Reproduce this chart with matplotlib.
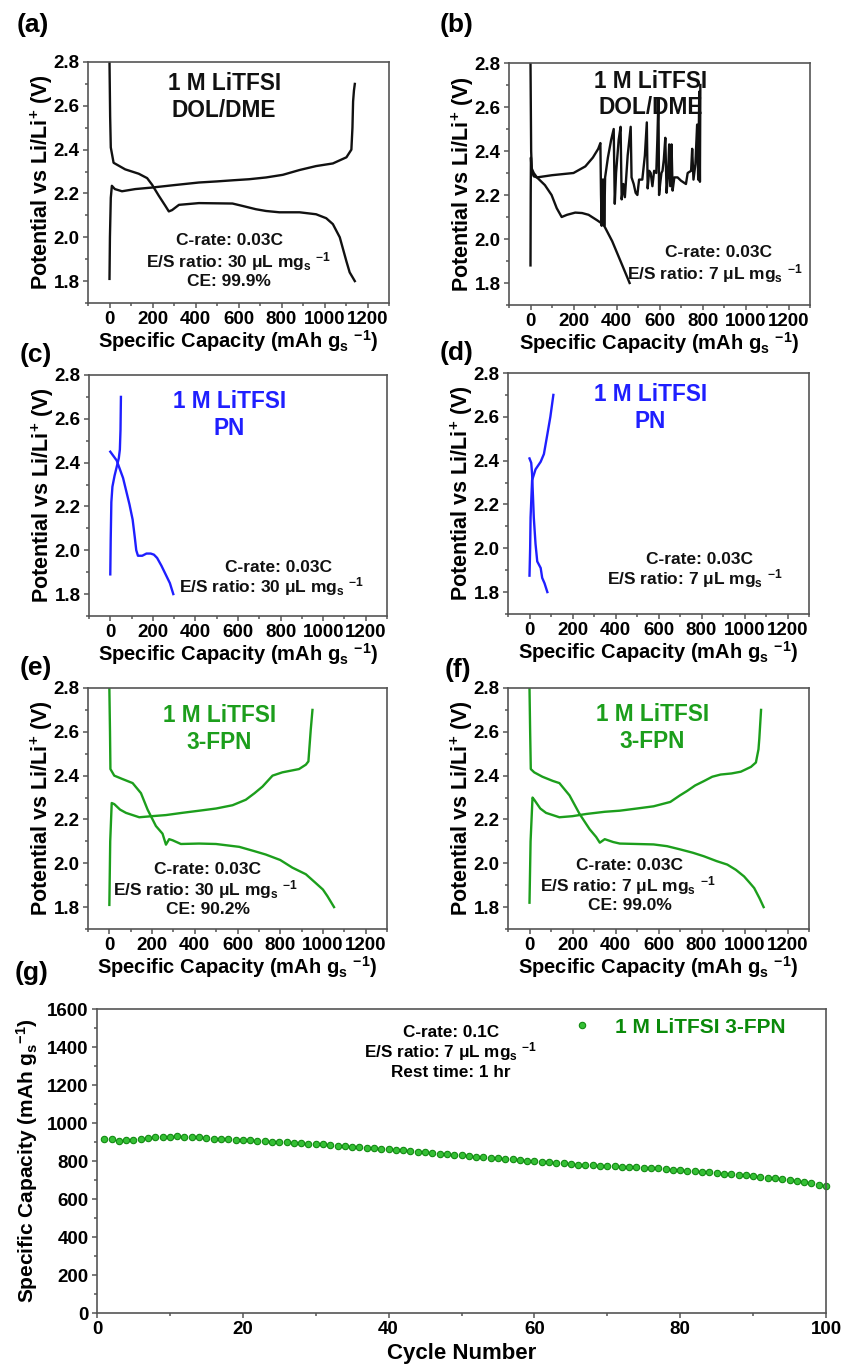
import matplotlib
matplotlib.use("Agg")
import matplotlib.pyplot as plt
from matplotlib.ticker import MultipleLocator

plt.rcParams['font.family'] = ['Liberation Sans', 'DejaVu Sans']
plt.rcParams['font.weight'] = 'bold'
plt.rcParams['axes.labelweight'] = 'bold'
plt.rcParams['mathtext.fontset'] = 'custom'
plt.rcParams['mathtext.rm'] = 'Liberation Sans:bold'
plt.rcParams['mathtext.bf'] = 'Liberation Sans:bold'
plt.rcParams['mathtext.it'] = 'Liberation Sans:bold'
plt.rcParams['mathtext.default'] = 'bf'

# ---------------- data ----------------
# (a) 1 M LiTFSI DOL/DME, 30 uL/mg
a_chg_x = [0, 2, 6, 11, 25, 58, 120, 198, 300, 416, 500, 572, 650, 728, 806, 884, 961, 1039, 1102, 1125, 1130, 1133, 1137, 1141]
a_chg_y = [1.81, 2.00, 2.18, 2.235, 2.22, 2.21, 2.22, 2.227, 2.238, 2.25, 2.255, 2.26, 2.265, 2.273, 2.285, 2.307, 2.325, 2.337, 2.365, 2.40, 2.50, 2.62, 2.67, 2.70]
a_dis_x = [0, 3, 6, 19, 73, 136, 175, 198, 229, 260, 276, 291, 323, 416, 572, 619, 681, 728, 790, 884, 961, 1008, 1039, 1071, 1102, 1117, 1141]
a_dis_y = [2.80, 2.55, 2.41, 2.34, 2.31, 2.29, 2.27, 2.24, 2.19, 2.143, 2.118, 2.124, 2.148, 2.156, 2.154, 2.143, 2.128, 2.12, 2.114, 2.114, 2.105, 2.087, 2.06, 2.00, 1.89, 1.84, 1.80]

# (b) 1 M LiTFSI DOL/DME, 7 uL/mg
b_chg_x = [0, 1, 2, 5, 15, 30, 100, 200, 255, 290, 315, 325, 328, 331, 334, 337, 340, 343, 347, 360, 375, 387, 392, 398, 410, 419,
           424, 432, 439, 452, 466, 470, 480, 489, 497, 505, 520, 532, 541, 545, 552, 559, 567, 575, 585, 590, 595, 598, 603,
           609, 614, 620, 627, 633, 640, 645, 650, 656, 661, 669, 684, 700, 723, 731, 747, 752, 758, 767, 775, 780, 785, 788, 790]
b_chg_y = [1.88, 2.20, 2.37, 2.31, 2.285, 2.28, 2.29, 2.30, 2.33, 2.37, 2.41, 2.436, 2.20, 2.06, 2.27, 2.10, 2.27, 2.06, 2.28, 2.37, 2.45, 2.50, 2.16, 2.30, 2.45, 2.51,
           2.18, 2.25, 2.19, 2.38, 2.51, 2.28, 2.25, 2.21, 2.20, 2.27, 2.27, 2.38, 2.53, 2.23, 2.31, 2.30, 2.24, 2.31, 2.30, 2.45, 2.64, 2.20, 2.25,
           2.30, 2.31, 2.36, 2.46, 2.21, 2.30, 2.43, 2.24, 2.43, 2.22, 2.28, 2.28, 2.265, 2.25, 2.30, 2.31, 2.41, 2.27, 2.34, 2.52, 2.27, 2.67, 2.26, 2.70]
b_dis_x = [0, 3, 6, 15, 30, 67, 98, 122, 145, 170, 208, 240, 270, 310, 340, 380, 427, 461]
b_dis_y = [2.80, 2.40, 2.32, 2.30, 2.28, 2.245, 2.20, 2.14, 2.10, 2.11, 2.12, 2.118, 2.11, 2.085, 2.065, 1.99, 1.88, 1.80]

# (c) 1 M LiTFSI PN, 30 uL/mg
c_chg_x = [0, 2, 5, 10, 20, 30, 40, 45, 48, 50]
c_chg_y = [1.89, 2.05, 2.22, 2.29, 2.34, 2.38, 2.42, 2.46, 2.55, 2.70]
c_dis_x = [0, 15, 30, 45, 60, 75, 90, 105, 115, 122, 130, 150, 170, 190, 205, 220, 240, 260, 280, 296]
c_dis_y = [2.45, 2.43, 2.41, 2.37, 2.33, 2.27, 2.21, 2.14, 2.06, 2.00, 1.975, 1.975, 1.985, 1.985, 1.98, 1.965, 1.93, 1.89, 1.85, 1.80]

# (d) 1 M LiTFSI PN, 7 uL/mg
d_chg_x = [0, 3, 5, 12, 28, 52, 67, 83, 97, 111]
d_chg_y = [1.875, 2.00, 2.14, 2.31, 2.36, 2.395, 2.43, 2.52, 2.60, 2.70]
d_dis_x = [0, 8, 12, 16, 20, 28, 36, 52, 59, 70, 83]
d_dis_y = [2.41, 2.39, 2.34, 2.24, 2.14, 2.02, 1.94, 1.91, 1.865, 1.84, 1.80]

# (e) 1 M LiTFSI 3-FPN, 30 uL/mg
e_chg_x = [0, 4, 11, 23, 50, 78, 140, 200, 265, 340, 421, 500, 577, 639, 680, 717, 764, 810, 888, 920, 932, 943, 951]
e_chg_y = [1.81, 2.10, 2.275, 2.27, 2.245, 2.23, 2.21, 2.215, 2.22, 2.23, 2.24, 2.25, 2.265, 2.29, 2.32, 2.35, 2.40, 2.415, 2.43, 2.45, 2.465, 2.61, 2.70]
e_dis_x = [0, 3, 5, 23, 60, 109, 148, 179, 218, 249, 265, 280, 296, 335, 420, 499, 608, 680, 732, 800, 857, 920, 966, 1000, 1021, 1052]
e_dis_y = [2.80, 2.60, 2.43, 2.40, 2.385, 2.366, 2.32, 2.245, 2.17, 2.135, 2.085, 2.11, 2.105, 2.088, 2.09, 2.088, 2.075, 2.055, 2.04, 2.015, 1.98, 1.95, 1.91, 1.88, 1.85, 1.80]

# (f) 1 M LiTFSI 3-FPN, 7 uL/mg
f_chg_x = [0, 5, 14, 22, 50, 77, 139, 200, 264, 350, 420, 500, 577, 655, 700, 733, 770, 811, 850, 889, 940, 983, 1030, 1053, 1065, 1069, 1077]
f_chg_y = [1.82, 2.10, 2.30, 2.29, 2.25, 2.23, 2.21, 2.215, 2.225, 2.235, 2.24, 2.25, 2.26, 2.28, 2.31, 2.33, 2.355, 2.375, 2.395, 2.405, 2.41, 2.418, 2.44, 2.46, 2.52, 2.57, 2.70]
f_dis_x = [0, 3, 6, 22, 60, 108, 139, 186, 233, 280, 310, 327, 350, 389, 420, 500, 577, 640, 702, 760, 811, 870, 920, 960, 998, 1025, 1045, 1070, 1089]
f_dis_y = [2.80, 2.60, 2.43, 2.415, 2.395, 2.376, 2.366, 2.31, 2.225, 2.155, 2.12, 2.094, 2.11, 2.097, 2.09, 2.088, 2.086, 2.078, 2.063, 2.048, 2.032, 2.01, 1.994, 1.97, 1.94, 1.91, 1.887, 1.84, 1.80]

# (g) cycling, 1 M LiTFSI 3-FPN
g_cycle = list(range(1, 101))
g_capacity = [918, 916, 905, 908, 912, 916, 920, 924, 927, 928, 929, 928, 926, 924, 921, 918, 916, 914, 912, 910,
              908, 906, 904, 902, 900, 898, 896, 894, 892, 890, 887, 884, 881, 878, 876, 873, 870, 867, 864, 862,
              859, 856, 852, 849, 845, 842, 838, 835, 832, 829, 826, 823, 820, 817, 814, 811, 808, 805, 802, 799,
              796, 793, 790, 787, 784, 781, 779, 777, 775, 774, 773, 771, 769, 767, 765, 763, 761, 758, 755, 752,
              749, 746, 743, 740, 737, 734, 731, 728, 725, 721, 717, 713, 709, 705, 700, 695, 690, 684, 676, 667]

BLACK = '#111111'
BLUE = '#1f1fff'
GREEN = '#1c9e1c'
SPINE = '#555555'

W, H = 841, 1368
fig = plt.figure(figsize=(W / 100, H / 100), dpi=100)


def px_axes(l, t, r, b):
    return fig.add_axes([l / W, 1 - b / H, (r - l) / W, (b - t) / H])


def style(ax, tsize=13.5):
    for s in ax.spines.values():
        s.set_color(SPINE)
        s.set_linewidth(1.2)
    ax.tick_params(which='both', direction='out', top=False, right=False, color=SPINE, width=1.1)
    ax.tick_params(which='major', length=3.5, labelsize=tsize, pad=2.5)
    ax.tick_params(which='minor', length=2.5)
    for lab in ax.get_xticklabels() + ax.get_yticklabels():
        lab.set_fontweight('bold')


XLABEL = r'Specific Capacity (mAh g$_{\mathbf{s}}$ $^{\mathbf{-1}}$)'
YLABEL = r'Potential vs Li/Li$^{\mathbf{+}}$ (V)'


def vpanel(box, tag, tagxy, curves, color, title, title_xy, notes):
    ax = px_axes(*box)
    for xs, ys in curves:
        ax.plot(xs, ys, color=color, lw=1.7, solid_joinstyle='round')
    ax.set_xlim(-100, 1300)
    ax.set_ylim(1.7, 2.8)
    ax.xaxis.set_minor_locator(MultipleLocator(100))
    ax.yaxis.set_minor_locator(MultipleLocator(0.1))
    ax.set_yticks([1.8, 2.0, 2.2, 2.4, 2.6, 2.8])
    ax.set_xticks([0, 200, 400, 600, 800, 1000, 1200])
    style(ax)
    ax.set_xlabel(XLABEL, fontsize=14.5, fontweight='bold', labelpad=0)
    ax.set_ylabel(YLABEL, fontsize=15.5, fontweight='bold', labelpad=-1)
    tx, ty1, ty2 = title_xy
    ax.text(tx, ty1, title[0], ha='center', va='center', fontsize=16.3, fontweight='bold', color=color)
    ax.text(tx, ty2, title[1], ha='center', va='center', fontsize=16.3, fontweight='bold', color=color)
    for (nx, ny, s) in notes:
        ax.text(nx, ny, s, ha='center', va='center', fontsize=12.5, fontweight='bold', color='#111111')
    fig.text(tagxy[0] / W, 1 - tagxy[1] / H, tag, ha='left', va='center', fontsize=19, fontweight='bold')
    return ax


def es(v):
    return r'E/S ratio: ' + v + r' μL mg$_{\mathbf{s}}$ $^{\mathbf{-1}}$'


vpanel((88, 62, 389, 303), '(a)', (17, 25), [(a_chg_x, a_chg_y), (a_dis_x, a_dis_y)], BLACK,
       ('1 M LiTFSI', 'DOL/DME'), (533, 2.70, 2.58),
       [(556, 1.986, 'C-rate: 0.03C'), (600, 1.89, es('30')), (556, 1.80, 'CE: 99.9%')])
vpanel((509, 63, 810, 305), '(b)', (440, 25), [(b_chg_x, b_chg_y), (b_dis_x, b_dis_y)], BLACK,
       ('1 M LiTFSI', 'DOL/DME'), (559, 2.714, 2.597),
       [(875, 1.94, 'C-rate: 0.03C'), (855, 1.845, es('7'))])
vpanel((89, 375, 387, 616), '(c)', (20, 355), [(c_chg_x, c_chg_y), (c_dis_x, c_dis_y)], BLUE,
       ('1 M LiTFSI', 'PN'), (559, 2.68, 2.557),
       [(790, 1.92, 'C-rate: 0.03C'), (760, 1.835, es('30'))])
vpanel((508, 373, 809, 614), '(d)', (440, 353), [(d_chg_x, d_chg_y), (d_dis_x, d_dis_y)], BLUE,
       ('1 M LiTFSI', 'PN'), (562, 2.70, 2.58),
       [(789, 1.947, 'C-rate: 0.03C'), (770, 1.86, es('7'))])
vpanel((88, 688, 387, 929), '(e)', (20, 668), [(e_chg_x, e_chg_y), (e_dis_x, e_dis_y)], GREEN,
       ('1 M LiTFSI', '3-FPN'), (514, 2.675, 2.55),
       [(460, 1.973, 'C-rate: 0.03C'), (450, 1.882, es('30')), (460, 1.788, 'CE: 90.2%')])
vpanel((508, 688, 809, 929), '(f)', (445, 670), [(f_chg_x, f_chg_y), (f_dis_x, f_dis_y)], GREEN,
       ('1 M LiTFSI', '3-FPN'), (572, 2.68, 2.555),
       [(467, 1.99, 'C-rate: 0.03C'), (458, 1.898, es('7')), (467, 1.806, 'CE: 99.0%')])

# ---------------- (g) ----------------
axg = px_axes(97, 1009, 826, 1313)
axg.plot(g_cycle, g_capacity, linestyle='none', marker='o', markersize=4.6,
         markerfacecolor='#35c035', markeredgecolor='#118a11', markeredgewidth=0.8,
         label='1 M LiTFSI 3-FPN', clip_on=False)
axg.set_xlim(0, 100)
axg.set_ylim(0, 1600)
axg.xaxis.set_major_locator(MultipleLocator(20))
axg.xaxis.set_minor_locator(MultipleLocator(10))
axg.yaxis.set_major_locator(MultipleLocator(200))
axg.yaxis.set_minor_locator(MultipleLocator(100))
style(axg, tsize=13.5)
axg.set_xlabel('Cycle Number', fontsize=16, fontweight='bold', labelpad=3)
axg.set_ylabel(r'Specific Capacity (mAh g$_{\mathbf{s}}$$^{\mathbf{-1}}$)', fontsize=15, fontweight='bold', labelpad=5)
leg = axg.legend(loc='center right', bbox_to_anchor=(0.945, 0.94), frameon=False, fontsize=15,
                 handlelength=0.8, handletextpad=1.2, markerscale=1.0, borderpad=0, borderaxespad=0)
for t in leg.get_texts():
    t.set_color('#0a8a0a')
    t.set_fontweight('bold')
axg.text(48.5, 1474, 'C-rate: 0.1C', ha='center', va='center', fontsize=12.3, fontweight='bold')
axg.text(48.5, 1374, r'E/S ratio: 7 μL mg$_{\mathbf{s}}$ $^{\mathbf{-1}}$', ha='center', va='center', fontsize=12.3, fontweight='bold')
axg.text(48.5, 1268, 'Rest time: 1 hr', ha='center', va='center', fontsize=12.3, fontweight='bold')
fig.text(15 / W, 1 - 973 / H, '(g)', ha='left', va='center', fontsize=19, fontweight='bold')

fig.savefig('out.png', dpi=100)
